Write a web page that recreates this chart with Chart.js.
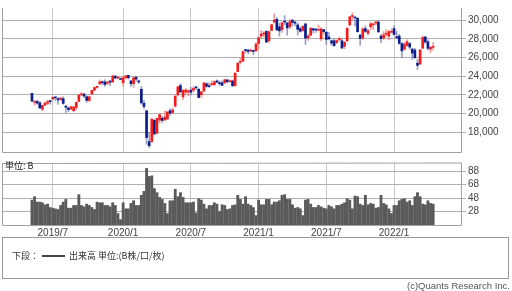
<!DOCTYPE html>
<html>
<head>
<meta charset="utf-8">
<script src="https://cdn.jsdelivr.net/npm/chart.js@4.4.1/dist/chart.umd.min.js"></script>
<style>
  html, body { margin: 0; padding: 0; background: #ffffff; }
  #wrap { position: relative; width: 512px; height: 291px; overflow: hidden; background: #fff; }
  canvas { position: absolute; left: 0; }
  #c1 { top: 0; }
  #c2 { top: 155px; }
  #unit { position: absolute; left: 5px; top: 160px; font: 9px "Noto Sans CJK JP", sans-serif; color: #222; line-height: 11px; }
  #legend { position: absolute; left: 2px; top: 237px; width: 507px; height: 42px; border: 1px solid #999; box-sizing: border-box; }
  #legtext { position: absolute; left: 9px; top: 12px; font: 9px "Noto Sans CJK JP", sans-serif; color: #333; line-height: 12px; white-space: nowrap; }
  #legline { display: inline-block; width: 23px; height: 2px; background: #444; vertical-align: middle; margin: 0 4px 0 3px; position: relative; top: -1px; }
  #copy { position: absolute; right: 2px; top: 280px; font: 9.5px "Liberation Sans", Arial, sans-serif; color: #555; line-height: 11px; }
</style>
</head>
<body>
<div id="wrap">
  <canvas id="c1" width="512" height="160"></canvas>
  <canvas id="c2" width="512" height="85"></canvas>
  <div id="unit">単位: B</div>
  <div id="legend"><div id="legtext">下段：<span id="legline"></span>出来高 単位:(B株/口/枚)</div></div>
  <div id="copy">(c)Quants Research Inc.</div>
</div>
<script>
// Weekly candles, first week ending 2019-05-10, last ending 2022-04-22
const openP = [
22160,21200,21300,21150,20450,20900,21100,21300,21550,21700,21600,21500,21600,20700,20600,20500,20300,20650,21300,22000,
22100,21800,21400,22100,22500,22800,23200,23400,23400,23250,23500,23400,24000,23800,23700,23300,23850,24100,23500,23200,
23900,23500,22600,21100,20300,17000,17000,19300,17900,19300,19500,19300,19400,20300,20100,20800,22000,23000,21800,22300,
22300,22500,22500,22800,22600,22000,22400,23200,22900,23100,23100,23500,23300,23300,23300,23600,23400,23500,23000,24500,
25500,25600,26800,26800,26700,26700,26700,27500,28300,28500,28800,27800,28900,29800,30100,29300,29000,29800,29700,29300,
30000,29700,29500,29100,28900,29600,28100,28400,29100,29000,28900,28000,29000,28700,28200,27800,27800,27600,27900,27800,
27200,27800,29500,30400,30300,30200,28400,28100,29100,28600,29300,29500,29700,29800,28300,28100,28500,28300,28700,29100,
28200,28300,27500,26900,27300,27500,26900,26800,25400,25300,27000,28200,27700,26900,27100];
const highP = [
22190,21430,21450,21300,20900,21260,21460,21400,21780,21700,21700,21760,21800,20900,20700,20800,20800,21250,22020,22260,
22150,21900,21900,22500,22800,22950,23600,23500,23600,23500,23500,24100,24100,23930,23800,23900,24100,24100,23500,23900,
23900,23600,22900,21400,20300,18000,19500,19300,19500,19900,19700,20300,20200,20500,20600,21900,22900,23200,22600,22700,
22600,22800,22900,22900,22700,22400,23300,23300,23300,23500,23500,23600,23500,23500,23700,23700,23600,23600,24400,25500,
26000,26700,26900,26900,26900,26800,27600,28200,28900,28800,28900,28800,29600,30714,30300,29700,29800,30500,29800,30100,
30100,29900,29700,29300,29400,29700,28500,29200,29100,29100,29500,29200,29000,28800,28700,27900,28000,27900,28200,28100,
27700,29200,30300,30800,30300,30300,28500,29200,29400,29000,29800,29700,29900,30000,28500,28800,29000,28900,29100,29400,
28800,28500,27600,27600,27900,27600,27000,27000,25800,26800,28300,28300,27900,27200,27600];
const lowP = [
21280,20900,21000,20550,20290,20880,20950,21000,21500,21400,21000,21400,21000,20110,20180,20400,20170,20400,21300,21900,
21700,21200,21300,22000,22500,22700,23100,23100,22900,23100,23000,23300,23700,23750,23650,22950,23700,23700,22900,22800,
23500,23200,21000,20500,16700,16358,16900,17700,17800,19000,19000,19300,19400,19800,20000,20700,21900,22300,21500,22100,
21900,22000,22300,22600,21700,21700,22400,22800,22800,23000,23000,23300,23000,23000,23200,23300,23400,22900,22900,24500,
25300,25600,26500,26400,26600,26300,26700,26900,28100,28200,27600,27600,28900,29700,28900,28300,28700,29500,28400,29100,
29400,29400,28400,28700,28800,27400,27800,28300,28600,28700,28900,27800,28500,27400,27900,27300,27200,27500,27800,27000,
26950,27700,29400,30000,29400,28700,27300,27900,28700,28400,29000,29000,29500,28700,27600,27900,28300,27900,28700,28400,
28000,27400,26000,26800,27200,26900,25800,25900,24700,25300,27000,27500,26800,26500,26800];
const closeP = [
21344,21250,21117,20601,20884,21116,21258,21276,21746,21686,21467,21658,21087,20684,20419,20711,20704,21199,21988,22079,
21878,21410,21798,22492,22800,22851,23391,23303,23113,23294,23354,24023,23816,23837,23656,23850,24041,23827,23205,23827,
23687,23386,21142,20749,17431,16552,19389,17820,19498,19897,19262,19619,20179,20037,20388,21877,22863,22305,22478,22512,
22306,22290,22696,22751,21710,22329,23289,22920,22882,23205,23406,23360,23204,23029,23619,23410,23516,22977,24325,25385,
25527,26644,26751,26652,26763,26656,27444,28139,28519,28631,27663,28779,29520,30018,28966,28864,29717,29792,29176,29854,
29768,29683,29020,28812,29357,28084,28317,29149,28941,28948,28964,29066,28783,27940,28003,27548,27284,27820,27977,27013,
27641,29128,30381,30500,30249,28771,28049,29069,28804,28893,29612,29610,29746,28752,28030,28437,28546,28782,28792,28479,
28124,27522,26717,27440,27696,27122,26476,25985,25162,26827,28150,27666,26986,27093,27105];
const volumeB = [
45,50,42,42,41,38,39,34,33,32,31,37,42,46,33,33,37,37,53,37,
35,39,37,34,31,42,41,41,37,37,35,41,37,25,16,41,32,32,40,44,
37,37,52,58,92,80,81,62,56,49,46,40,25,44,44,61,50,56,49,41,
41,41,42,26,47,45,39,32,37,37,41,39,28,38,37,31,32,37,38,52,
46,39,50,39,37,34,22,45,38,38,46,46,38,42,42,44,52,53,46,46,
38,33,34,32,22,45,46,39,34,34,37,35,33,32,37,35,32,37,37,39,
41,47,45,32,51,50,39,37,52,38,40,39,33,34,52,40,38,32,25,37,
37,44,46,47,42,44,37,50,56,50,39,38,44,40,39];
const xTickIdx = [8, 35, 61, 87, 113, 139];
const xTickLabels = ['2019/7', '2020/1', '2020/7', '2021/1', '2021/7', '2022/1'];
const priceTicks = [18000, 20000, 22000, 24000, 26000, 28000, 30000];
const volTicks = [28, 48, 68, 88];

Chart.defaults.font.family = '"Liberation Sans", Arial, sans-serif';
Chart.defaults.font.size = 10;
Chart.defaults.color = '#444';
Chart.defaults.animation = false;

const X_MIN = -11.5, X_MAX = 164.7;
const UP = '#f21c1c', DOWN = '#0b1c8c', UP_W = 'rgba(240,120,120,0.75)', DOWN_W = 'rgba(110,120,180,0.7)';

const frame = (showTop) => ({
  id: 'frame',
  afterDraw(chart) {
    const a = chart.chartArea, ctx = chart.ctx;
    ctx.save();
    ctx.strokeStyle = '#a0a0a0';
    ctx.lineWidth = 1;
    ctx.beginPath();
    ctx.moveTo(a.left + 0.5, a.top); ctx.lineTo(a.left + 0.5, a.bottom + 0.5);
    ctx.lineTo(a.right + 0.5, a.bottom + 0.5); ctx.lineTo(a.right + 0.5, a.top);
    if (showTop) ctx.lineTo(a.left + 0.5, a.top + 0.5);
    ctx.stroke();
    ctx.restore();
  }
});

const xScale = (showLabels, h) => ({
  type: 'linear', min: X_MIN, max: X_MAX, offset: false,
  afterBuildTicks: s => { s.ticks = xTickIdx.map(v => ({ value: v })); },
  afterFit: s => { s.height = h; },
  grid: { display: true, offset: false, color: '#c8c8c8', drawTicks: false },
  border: { display: false },
  ticks: { display: showLabels, padding: 2, autoSkip: false, maxRotation: 0,
           callback: (v, i) => xTickLabels[i] }
});

const idx = closeP.map((_, i) => i);
const upFlags = idx.map(i => closeP[i] >= openP[i]);

new Chart(document.getElementById('c1'), {
  type: 'bar',
  data: {
    datasets: [
      { label: 'body', data: idx.map(i => ({ x: i, y: [openP[i], closeP[i]] })),
        backgroundColor: upFlags.map(u => u ? UP : DOWN), barThickness: 2, minBarLength: 1, grouped: false },
      { label: 'wick', data: idx.map(i => ({ x: i, y: [lowP[i], highP[i]] })),
        backgroundColor: upFlags.map(u => u ? UP_W : DOWN_W), barThickness: 1, grouped: false }
    ]
  },
  options: {
    responsive: false, devicePixelRatio: 1,
    layout: { padding: { left: 2, top: 0, right: 0, bottom: 0 } },
    plugins: { legend: { display: false }, tooltip: { enabled: false } },
    scales: {
      x: xScale(false, 7),
      y: { position: 'right', min: 15880, max: 31310,
           afterBuildTicks: s => { s.ticks = priceTicks.map(v => ({ value: v })); },
           afterFit: s => { s.width = 51; },
           grid: { color: '#b0b0b0', tickLength: 5, drawTicks: true },
           border: { display: false },
           ticks: { padding: 2, callback: v => v.toLocaleString('en-US') } }
    }
  },
  plugins: [frame(false)]
});

new Chart(document.getElementById('c2'), {
  type: 'bar',
  data: {
    datasets: [
      { label: '出来高', data: idx.map(i => ({ x: i, y: volumeB[i] })),
        backgroundColor: '#5a5a5a', barThickness: 2.2, grouped: false }
    ]
  },
  options: {
    responsive: false, devicePixelRatio: 1,
    layout: { padding: { left: 2, top: 6, right: 0, bottom: 0 } },
    plugins: { legend: { display: false }, tooltip: { enabled: false } },
    scales: {
      x: xScale(true, 15),
      y: { position: 'right', min: 8, max: 100,
           afterBuildTicks: s => { s.ticks = volTicks.map(v => ({ value: v })); },
           afterFit: s => { s.width = 51; },
           grid: { color: '#b0b0b0', tickLength: 5, drawTicks: true },
           border: { display: false },
           ticks: { padding: 2 } }
    }
  },
  plugins: [frame(true)]
});
</script>
</body>
</html>
